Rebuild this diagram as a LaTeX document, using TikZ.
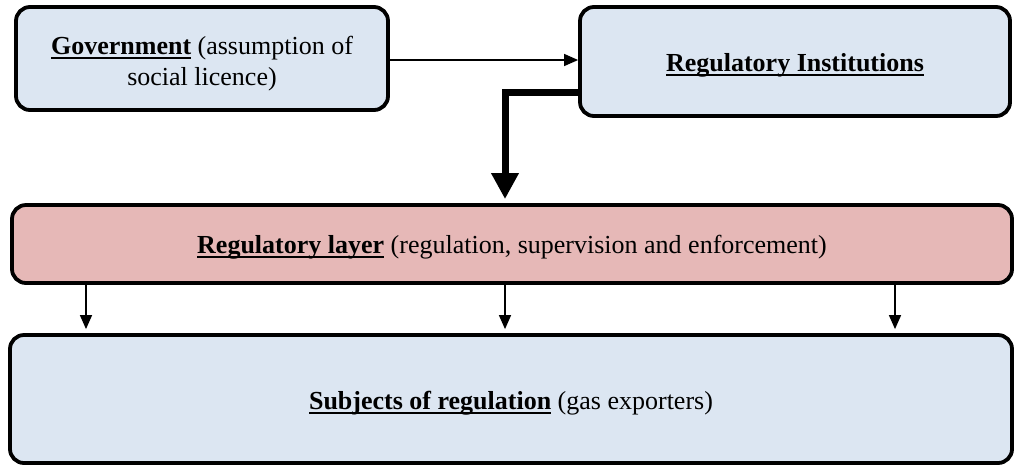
\documentclass[tikz,border=0pt]{standalone}
\usepackage{fontspec}
\setmainfont{Liberation Serif}
\newsavebox{\myulbox}
\newcommand{\myul}[1]{\sbox{\myulbox}{#1}\rlap{\rule[-4.5pt]{\wd\myulbox}{2.2pt}}\usebox{\myulbox}}
\usetikzlibrary{arrows.meta,shadows}
\definecolor{boxblue}{HTML}{DCE6F2}
\definecolor{boxpink}{HTML}{E6B8B7}
\begin{document}
\begin{tikzpicture}[x=1pt,y=-1pt,
  box/.style={draw=black, line width=3.8pt, rounded corners=14pt,
    inner sep=0pt,
    drop shadow={shadow xshift=1.5pt, shadow yshift=-1.5pt, opacity=0.45}},
  txt/.style={align=center, inner sep=0pt, font=\fontsize{26}{31}\selectfont},
  thin/.style={line width=1.4pt, -{Triangle[length=14pt,width=12pt]}},
  thick/.style={line width=7pt, -{Triangle[length=26pt,width=26pt]}}]
\useasboundingbox (0,0) rectangle (1016,467);
\node[box, fill=boxblue, minimum width=372pt, minimum height=103pt] (gov) at (202,58.5) {};
\node[txt] (govt) at ([yshift=-5pt]gov.center)
  {\myul{\textbf{Government}} (assumption of\\ social licence)};
\node[box, fill=boxblue, minimum width=430pt, minimum height=109pt] (ri) at (795,61.5) {};
\node[txt] (rit) at ([yshift=-4pt]ri.center) {\myul{\textbf{Regulatory Institutions}}};
\node[box, fill=boxpink, minimum width=1000pt, minimum height=78pt] (layer) at (512,244) {};
\node[txt] (layert) at ([yshift=-3pt]layer.center)
  {\myul{\textbf{Regulatory layer}} (regulation, supervision and enforcement)};
\node[box, fill=boxblue, minimum width=1002pt, minimum height=128pt] (subj) at (511,399) {};
\node[txt] (subjt) at ([yshift=-4pt]subj.center)
  {\myul{\textbf{Subjects of regulation}} (gas exporters)};
\draw[thin] (gov.east |- 0,60) -- (ri.west |- 0,60);
\coordinate (bend) at (505,92);
\draw[thick] (ri.west |- bend) -- (bend) -- ([yshift=4pt]bend |- layer.north);
\foreach \x in {86,505,895}
  \draw[thin, shorten >=4pt] (\x,0 |- layer.south) -- (\x,0 |- subj.north);
\end{tikzpicture}
\end{document}
